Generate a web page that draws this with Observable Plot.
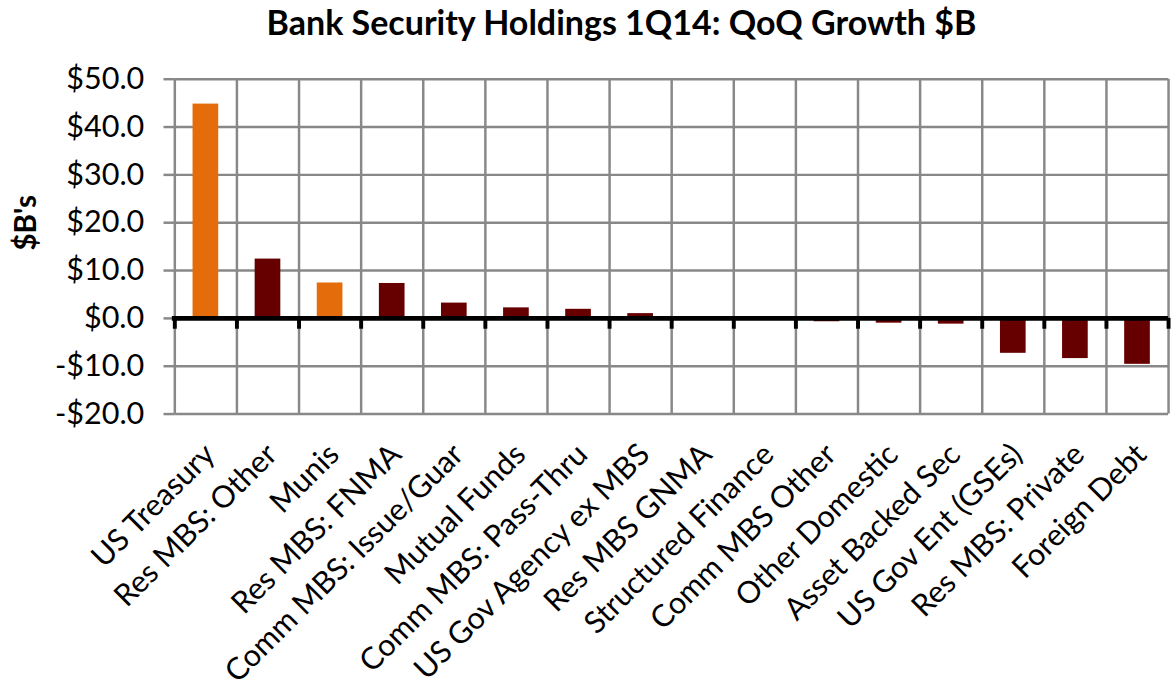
<!DOCTYPE html>
<html><head><meta charset="utf-8">
<script src="https://cdn.jsdelivr.net/npm/d3@7"></script>
<script src="https://cdn.jsdelivr.net/npm/@observablehq/plot@0.6"></script>
<style>
html,body{margin:0;padding:0;background:#fff;overflow:hidden}
#wrap{position:relative;width:1172px;height:690px;overflow:hidden;background:#fff}
#title{position:absolute;top:5px;left:71px;right:0;text-align:center;font-family:Lato,sans-serif;font-weight:bold;font-size:34px;line-height:34px;color:#000;white-space:nowrap}
#chart{position:absolute;top:60px;left:0}
</style></head><body>
<div id="wrap"><div id="title">Bank Security Holdings 1Q14: QoQ Growth $B</div><div id="chart"></div></div>
<script>
const categories = ["US Treasury", "Res MBS: Other", "Munis", "Res MBS: FNMA", "Comm MBS: Issue/Guar", "Mutual Funds", "Comm MBS: Pass-Thru", "US Gov Agency ex MBS", "Res MBS GNMA", "Structured Finance", "Comm MBS Other", "Other Domestic", "Asset Backed Sec", "US Gov Ent (GSEs)", "Res MBS: Private", "Foreign Debt"];
const values = [44.8, 12.4, 7.4, 7.3, 3.2, 2.2, 1.9, 1.0, 0.0, 0.0, -0.7, -1.0, -1.2, -7.3, -8.4, -9.6];
const highlighted = ["US Treasury", "Munis"];
const yTicks = [-20, -10, 0, 10, 20, 30, 40, 50];
const yTitle = "$B's";

const ORANGE = "#E46C0A", DARK = "#660000", GRID = "#888888";
const data = categories.map((c, i) => ({category: c, index: i, value: values[i], hi: highlighted.includes(c)}));
const boundaries = d3.range(categories.length + 1);
const fmt = d => (d < 0 ? "-" : "") + "$" + Math.abs(d).toFixed(1);

const chart = Plot.plot({
  width: 1190,
  height: 630,
  marginLeft: 177,
  marginRight: 4,
  marginTop: 19,
  marginBottom: 271,
  style: {fontFamily: "Lato, sans-serif", fontSize: "31px", color: "#000", background: "#fff", overflow: "visible"},
  x: {domain: [0, categories.length], axis: null},
  y: {domain: [yTicks[0], yTicks[yTicks.length - 1]], axis: null},
  color: {type: "identity"},
  marks: [
    Plot.ruleY(yTicks, {stroke: GRID, strokeWidth: 2.5}),
    Plot.ruleX(boundaries, {stroke: GRID, strokeWidth: 2.5}),
    Plot.axisY({ticks: yTicks, tickFormat: fmt, tickSize: 11, tickPadding: 20, stroke: GRID, strokeWidth: 2.5, fill: "#000", fontSize: 31, label: null}),
    Plot.rectY(data, {x1: "index", x2: d => d.index + 1, y: "value", insetLeft: 18.5, insetRight: 18.5, fill: d => d.hi ? ORANGE : DARK}),
    Plot.ruleY([0], {stroke: "#000", strokeWidth: 5, insetLeft: -2.5}),
    Plot.ruleX(boundaries, {y1: 0, y2: 0, insetBottom: -11, stroke: "#000", strokeWidth: 4}),
    Plot.text(data, {x: d => d.index + 0.5, text: "category", frameAnchor: "bottom", rotate: -45, textAnchor: "end", lineAnchor: "bottom", dx: 11, dy: 43, fontSize: 31, fill: "#000"}),
    Plot.text([yTitle], {frameAnchor: "left", rotate: -90, dx: -151, dy: 4, fontWeight: "bold", fontSize: 30, lineAnchor: "middle", fill: "#000"})
  ]
});
document.getElementById("chart").appendChild(chart);
</script>
</body></html>
